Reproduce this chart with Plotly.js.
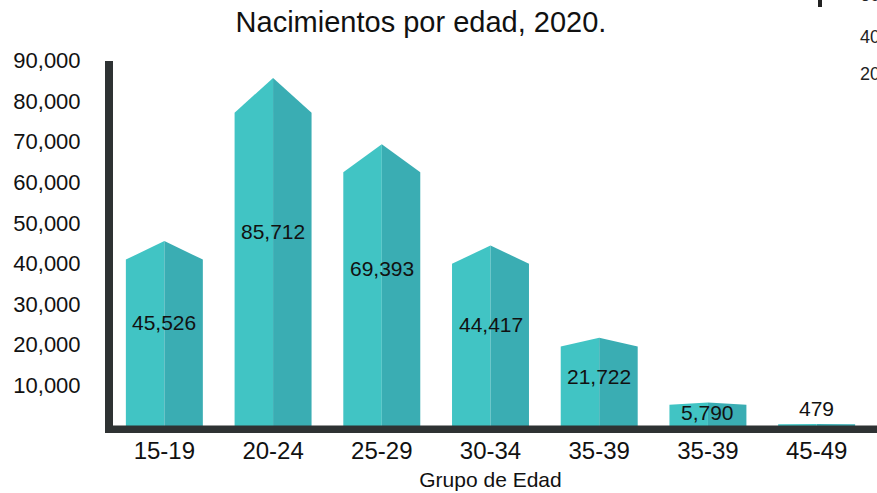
<!DOCTYPE html>
<html>
<head>
<meta charset="utf-8">
<script src="https://cdn.plot.ly/plotly-3.0.1.min.js"></script>
<style>html,body{margin:0;padding:0;background:#fff;}#chart{width:877px;height:493px;}</style>
</head>
<body>
<div id="chart"></div>
<script>
// ---- data ----
const categories = ['15-19', '20-24', '25-29', '30-34', '35-39', '35-39', '45-49'];
const births = [45526, 85712, 69393, 44417, 21722, 5790, 479];
const yTickValues = [10000, 20000, 30000, 40000, 50000, 60000, 70000, 80000, 90000];
const cornerLabels = ['60', '40', '20'];

// ---- style constants ----
const LIGHT = '#41c4c4';
const DARK = '#3aadb3';
const AXIS = '#2e3233';
const FONT = 'Liberation Sans, Arial, Helvetica, sans-serif';
const HALF = 0.354;          // half bar width in category units
const SHOULDER = 0.9;        // shoulder height as fraction of value

const xIdx = categories.map((_, i) => i);
const traces = [];
births.forEach((v, i) => {
  const sh = v * SHOULDER;
  traces.push({
    type: 'scatter', mode: 'lines', fill: 'toself', fillcolor: LIGHT,
    line: {width: 0, color: LIGHT}, hoverinfo: 'skip', showlegend: false,
    x: [i - HALF, i - HALF, i, i, i - HALF],
    y: [0, sh, v, 0, 0]
  });
  traces.push({
    type: 'scatter', mode: 'lines', fill: 'toself', fillcolor: DARK,
    line: {width: 0, color: DARK}, hoverinfo: 'skip', showlegend: false,
    x: [i, i, i + HALF, i + HALF, i],
    y: [0, v, sh, 0, 0]
  });
});

// plot area in px: x 110..871, y 60..433
const px2x = p => (p - 110) / 761;
const px2y = p => (433 - p) / 373;

const annotations = births.map((v, i) => {
  const small = v < 2000;
  return {
    x: i, y: small ? v : v * 0.56, xref: 'x', yref: 'y',
    text: v.toLocaleString('en-US'), showarrow: false,
    xanchor: 'center', yanchor: small ? 'bottom' : 'middle',
    yshift: small ? 2 : 0,
    font: {family: FONT, size: 21, color: '#111'}
  };
});
const cornerY = [-5, 37, 74];
cornerLabels.forEach((t, k) => {
  annotations.push({
    x: px2x(858), y: px2y(cornerY[k]), xref: 'paper', yref: 'paper',
    text: t, showarrow: false, xanchor: 'left', yanchor: 'middle',
    font: {family: FONT, size: 18, color: '#222'}
  });
});

const shapes = [
  {type: 'rect', xref: 'paper', yref: 'paper', x0: px2x(105), x1: px2x(113), y0: px2y(433), y1: px2y(61),
   fillcolor: AXIS, line: {width: 0}, layer: 'above'},
  {type: 'rect', xref: 'paper', yref: 'paper', x0: px2x(105), x1: 1.02, y0: px2y(433), y1: px2y(425.5),
   fillcolor: AXIS, line: {width: 0}, layer: 'above'},
  {type: 'rect', xref: 'paper', yref: 'paper', x0: px2x(818), x1: px2x(822), y0: px2y(7), y1: px2y(-5),
   fillcolor: '#222', line: {width: 0}, layer: 'above'}
];

const layout = {
  width: 877, height: 493,
  margin: {l: 110, r: 6, t: 60, b: 60},
  paper_bgcolor: '#fff', plot_bgcolor: '#fff',
  showlegend: false,
  title: {
    text: 'Nacimientos por edad, 2020.',
    x: px2x(421), xref: 'paper', xanchor: 'center',
    y: 1 - 22 / 493, yref: 'container', yanchor: 'middle',
    font: {family: FONT, size: 29, color: '#111'}
  },
  xaxis: {
    range: [-0.5, 6.5], tickvals: xIdx, ticktext: categories,
    showgrid: false, zeroline: false, showline: false,
    ticks: '', ticklabelstandoff: 1,
    tickfont: {family: FONT, size: 24, color: '#111'},
    title: {text: 'Grupo de Edad', standoff: 9, font: {family: FONT, size: 21, color: '#111'}},
    fixedrange: true
  },
  yaxis: {
    range: [-1724, 90122], tickvals: yTickValues, tickformat: ',d',
    showgrid: false, zeroline: false, showline: false,
    ticks: 'outside', ticklen: 24, tickcolor: 'rgba(0,0,0,0)',
    tickfont: {family: FONT, size: 22, color: '#111'},
    fixedrange: true
  },
  annotations: annotations,
  shapes: shapes
};

Plotly.newPlot('chart', traces, layout, {displayModeBar: false, staticPlot: true});
</script>
</body>
</html>
